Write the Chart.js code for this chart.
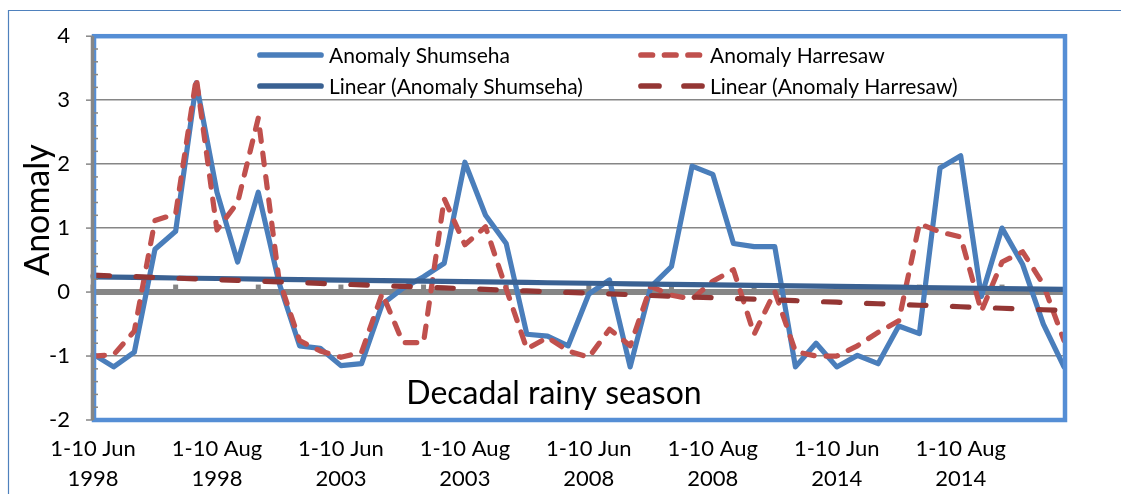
<!DOCTYPE html>
<html>
<head>
<meta charset="utf-8">
<script src="https://cdn.jsdelivr.net/npm/chart.js@4.4.1/dist/chart.umd.min.js"></script>
<style>
  html, body { margin: 0; padding: 0; background: #ffffff; }
  #wrap { width: 1121px; height: 494px; position: relative; }
</style>
</head>
<body>
<div id="wrap"><canvas id="c" width="1121" height="494"></canvas></div>
<script>
// ---- data ----
const years = [1998, 2003, 2008, 2014];
const dekads = ["1-10 Jun", "11-20 Jun", "21-30 Jun", "1-10 Jul", "11-20 Jul", "21-31 Jul",
                "1-10 Aug", "11-20 Aug", "21-31 Aug", "1-10 Sep", "11-20 Sep", "21-30 Sep"];
const categories = [];
years.forEach(yr => dekads.forEach(d => categories.push(d + " " + yr)));

const anomalyShumseha = [
  -0.97, -1.17, -0.94, 0.67, 0.95, 3.27, 1.56, 0.47, 1.56, 0.15, -0.84, -0.88,
  -1.15, -1.12, -0.19, 0.06, 0.24, 0.45, 2.03, 1.20, 0.76, -0.66, -0.69, -0.84,
  -0.03, 0.19, -1.17, 0.08, 0.40, 1.97, 1.84, 0.76, 0.71, 0.71, -1.17, -0.80,
  -1.17, -0.99, -1.12, -0.53, -0.65, 1.94, 2.13, -0.07, 1.00, 0.43, -0.50, -1.17
];
const anomalyHarresaw = [
  -1.00, -0.98, -0.61, 1.12, 1.22, 3.35, 0.97, 1.40, 2.72, 0.20, -0.76, -0.92,
  -1.02, -0.94, -0.02, -0.79, -0.79, 1.46, 0.74, 1.02, 0.05, -0.89, -0.71, -0.92,
  -1.02, -0.58, -0.84, 0.09, -0.05, -0.11, 0.17, 0.35, -0.66, 0.01, -0.93, -1.00,
  -1.00, -0.84, -0.63, -0.45, 1.07, 0.94, 0.86, -0.30, 0.47, 0.63, 0.12, -0.76
];
const yTicks = [-2, -1, 0, 1, 2, 3, 4];
const seriesNames = ["Anomaly Shumseha", "Anomaly Harresaw",
                     "Linear (Anomaly Shumseha)", "Linear (Anomaly Harresaw)"];
const xTitle = "Decadal rainy season";
const yTitle = "Anomaly";

// least-squares linear trend (Excel "Linear" trendline)
function linearTrend(vals) {
  const n = vals.length;
  let sx = 0, sy = 0, sxy = 0, sxx = 0;
  vals.forEach((v, i) => { sx += i; sy += v; sxy += i * v; sxx += i * i; });
  const b = (n * sxy - sx * sy) / (n * sxx - sx * sx);
  const a = (sy - b * sx) / n;
  return vals.map((v, i) => a + b * i);
}
const trendShumseha = linearTrend(anomalyShumseha);
const trendHarresaw = linearTrend(anomalyHarresaw);

// ---- styles ----
const FONT = "Lato, 'Open Sans', sans-serif";
const C_BLUE = "#4A7EBB", C_RED = "#C0504D", C_TBLUE = "#3A6192", C_TRED = "#943634";
const C_GRAY = "#868686", C_FRAME = "#558ED5";
const LW = 5.2;
const DASH_SERIES = [11.5, 12], DASH_TREND = [16.5, 26.5];

const decor = {
  id: "decor",
  beforeDatasetsDraw(chart) {
    const { ctx, chartArea: ca, scales: { x, y } } = chart;
    const y0 = y.getPixelForValue(0);
    ctx.save();
    ctx.strokeStyle = C_GRAY;
    ctx.lineWidth = 6;
    ctx.beginPath(); ctx.moveTo(ca.left, y0); ctx.lineTo(ca.right, y0); ctx.stroke();
    ctx.lineWidth = 5;
    for (let i = 0; i < categories.length; i += 4) {
      const px = x.getPixelForValue(i);
      ctx.beginPath(); ctx.moveTo(px, y0); ctx.lineTo(px, y0 - 7.5); ctx.stroke();
    }
    ctx.restore();
  },
  afterDatasetsDraw(chart) {
    const { ctx, chartArea: ca, scales: { y } } = chart;
    ctx.save();
    // plot-area frame
    ctx.strokeStyle = C_FRAME;
    ctx.lineWidth = 4.5;
    ctx.strokeRect(ca.left + 1, ca.top, ca.right - ca.left, ca.bottom - ca.top);
    // value axis line + tick marks
    ctx.strokeStyle = C_GRAY;
    ctx.lineWidth = 3.5;
    ctx.beginPath(); ctx.moveTo(ca.left - 0.5, ca.top); ctx.lineTo(ca.left - 0.5, ca.bottom); ctx.stroke();
    ctx.lineWidth = 1.5;
    for (let k = 0; k <= 30; k++) {
      const v = -2 + k * 0.2;
      const py = y.getPixelForValue(v);
      ctx.beginPath();
      if (k % 5 === 0) { ctx.moveTo(ca.left - 7, py); ctx.lineTo(ca.left, py); }
      else { ctx.moveTo(ca.left, py); ctx.lineTo(ca.left + 5, py); }
      ctx.stroke();
    }
    // outer chart frame
    ctx.strokeStyle = "#4F81BD";
    ctx.lineWidth = 1.2;
    ctx.beginPath(); ctx.moveTo(8.5, 494); ctx.lineTo(8.5, 10.5); ctx.lineTo(1121, 10.5); ctx.stroke();
    ctx.restore();
  },
  afterDraw(chart) {
    const { ctx } = chart;
    ctx.save();
    // legend
    const rows = [55, 86];
    const items = [
      { x: 257, y: rows[0], color: C_BLUE, dash: [], label: seriesNames[0] },
      { x: 638, y: rows[0], color: C_RED, dash: DASH_SERIES, label: seriesNames[1] },
      { x: 257, y: rows[1], color: C_TBLUE, dash: [], label: seriesNames[2] },
      { x: 638, y: rows[1], color: C_TRED, dash: [18, 25], label: seriesNames[3] }
    ];
    ctx.font = "21px " + FONT;
    ctx.textBaseline = "middle";
    ctx.textAlign = "left";
    items.forEach(it => {
      ctx.strokeStyle = it.color;
      ctx.lineWidth = LW + 0.5;
      ctx.lineCap = "round";
      ctx.setLineDash(it.dash);
      ctx.beginPath(); ctx.moveTo(it.x + 3, it.y); ctx.lineTo(it.x + 64, it.y); ctx.stroke();
      ctx.setLineDash([]);
      ctx.fillStyle = "#000";
      ctx.fillText(it.label, it.x + 72, it.y + 1);
    });
    // axis titles
    ctx.font = "32px " + FONT;
    ctx.textAlign = "center";
    ctx.fillText(xTitle, 554, 394);
    ctx.font = "34px " + FONT;
    ctx.translate(38, 210);
    ctx.rotate(-Math.PI / 2);
    ctx.fillText(yTitle, 0, 0);
    ctx.restore();
  }
};

const lineBase = { pointRadius: 0, pointHoverRadius: 0, tension: 0, fill: false,
                   borderWidth: LW, borderJoinStyle: "round", borderCapStyle: "round" };

new Chart(document.getElementById("c"), {
  type: "line",
  data: {
    labels: categories,
    datasets: [
      Object.assign({}, lineBase, { label: seriesNames[0], data: anomalyShumseha, borderColor: C_BLUE, order: 4 }),
      Object.assign({}, lineBase, { label: seriesNames[1], data: anomalyHarresaw, borderColor: C_RED, borderDash: DASH_SERIES, order: 3 }),
      Object.assign({}, lineBase, { label: seriesNames[2], data: trendShumseha, borderColor: C_TBLUE, order: 2 }),
      Object.assign({}, lineBase, { label: seriesNames[3], data: trendHarresaw, borderColor: C_TRED, borderDash: DASH_TREND, order: 1 })
    ]
  },
  options: {
    responsive: false,
    animation: false,
    events: [],
    layout: { padding: { left: 0, right: 57, top: 32, bottom: 0 } },
    plugins: { legend: { display: false }, tooltip: { enabled: false }, title: { display: false } },
    scales: {
      x: {
        type: "category",
        offset: false,
        grid: { display: false, drawTicks: false },
        border: { display: false },
        ticks: {
          autoSkip: false, maxRotation: 0, minRotation: 0, padding: 14,
          color: "#000", font: { family: FONT, size: 22, lineHeight: 1.36 },
          callback: function (value, index) {
            if (index % 6 !== 0) return "";
            const lab = categories[index];
            const cut = lab.lastIndexOf(" ");
            return [lab.slice(0, cut), lab.slice(cut + 1)];
          }
        },
        afterFit: s => { s.height = 74; }
      },
      y: {
        min: yTicks[0], max: yTicks[yTicks.length - 1],
        afterBuildTicks: s => { s.ticks = yTicks.map(v => ({ value: v })); },
        grid: { color: C_GRAY, lineWidth: 1.5, drawTicks: false },
        border: { display: false },
        ticks: { padding: 23, color: "#000", font: { family: FONT, size: 22 } },
        afterFit: s => { s.width = 93; }
      }
    }
  },
  plugins: [decor]
});
</script>
</body>
</html>
